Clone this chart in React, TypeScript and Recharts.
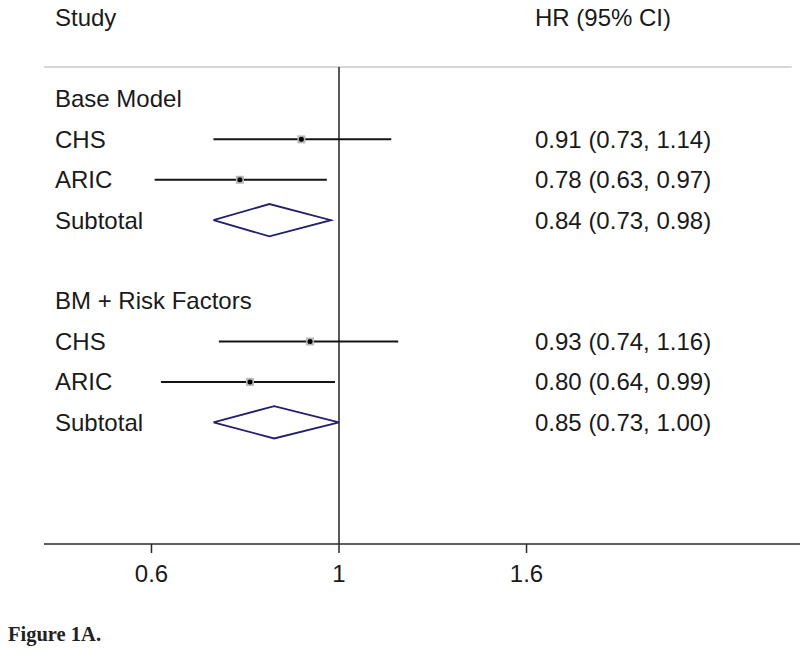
import React from 'react'
import { ScatterChart, Scatter, XAxis, YAxis, ReferenceLine, ErrorBar } from 'recharts'

// row layout, top to bottom
const ROW_LABELS = ['Base Model', 'CHS', 'ARIC', 'Subtotal', '', 'BM + Risk Factors', 'CHS', 'ARIC', 'Subtotal']

// individual studies
const STUDY_ROWS = [1, 2, 6, 7]
const STUDY_HR = [0.91, 0.78, 0.93, 0.8]
const STUDY_LO = [0.73, 0.63, 0.74, 0.64]
const STUDY_HI = [1.14, 0.97, 1.16, 0.99]

// pooled subtotals
const SUBTOTAL_ROWS = [3, 8]
const SUBTOTAL_HR = [0.84, 0.85]
const SUBTOTAL_LO = [0.73, 0.73]
const SUBTOTAL_HI = [0.98, 1.0]

// x axis (log scale, the 0.6 label sits at 1/1.6)
const X_TICKS = [0.625, 1, 1.6]
const X_TICK_LABELS = ['0.6', '1', '1.6']
const X_DOMAIN = [0.4774, 3.1754]
const Y_DOMAIN = [-0.79, 11.01]

const COLORS = {
  text: '#1a1a1a',
  ci: '#141414',
  diamond: '#24206e',
  marker: '#b8b8b8',
  sep: '#c8c8c8',
  axis: '#2a2a2a',
}

const FONT = '"Liberation Sans", Arial, Helvetica, sans-serif'
const DIAMOND_H = 0.4

const fmt = (v: number) => v.toFixed(2)

const hrText: string[] = ROW_LABELS.map(() => '')
STUDY_ROWS.forEach((r, i) => {
  hrText[r] = `${fmt(STUDY_HR[i])} (${fmt(STUDY_LO[i])}, ${fmt(STUDY_HI[i])})`
})
SUBTOTAL_ROWS.forEach((r, i) => {
  hrText[r] = `${fmt(SUBTOTAL_HR[i])} (${fmt(SUBTOTAL_LO[i])}, ${fmt(SUBTOTAL_HI[i])})`
})

const studyData = STUDY_ROWS.map((r, i) => ({
  x: STUDY_HR[i],
  y: r,
  err: [STUDY_HR[i] - STUDY_LO[i], STUDY_HI[i] - STUDY_HR[i]],
}))

const diamonds = SUBTOTAL_ROWS.map((r, i) => [
  { x: SUBTOTAL_LO[i], y: r },
  { x: SUBTOTAL_HR[i], y: r - DIAMOND_H },
  { x: SUBTOTAL_HI[i], y: r },
  { x: SUBTOTAL_HR[i], y: r + DIAMOND_H },
  { x: SUBTOTAL_LO[i], y: r },
])

const StudyMarker = (props: any) => {
  const { cx, cy } = props
  return (
    <g>
      <rect x={cx - 4} y={cy - 4} width={8} height={8} fill={COLORS.marker} />
      <circle cx={cx} cy={cy} r={2.5} fill="#000" />
    </g>
  )
}

const RowTick = (props: any) => {
  const { y, payload } = props
  const r = payload.value
  return (
    <g>
      <text x={55} y={y} dy="0.35em" fontSize={24} fontFamily={FONT} fill={COLORS.text} textAnchor="start">
        {ROW_LABELS[r]}
      </text>
      <text x={535} y={y} dy="0.35em" fontSize={24} fontFamily={FONT} fill={COLORS.text} textAnchor="start">
        {hrText[r]}
      </text>
    </g>
  )
}

export default function App() {
  return (
    <div style={{ position: 'absolute', left: 0, top: 0, width: 800, height: 654, background: '#fff' }}>
      <div style={{ position: 'absolute', left: 55, top: 6, fontFamily: FONT, fontSize: 24, lineHeight: '24px', color: COLORS.text }}>
        Study
      </div>
      <div style={{ position: 'absolute', left: 535, top: 6, fontFamily: FONT, fontSize: 24, lineHeight: '24px', color: COLORS.text }}>
        HR (95% CI)
      </div>
      <ScatterChart width={800} height={654} margin={{ top: 67, right: 0, bottom: 60, left: 44 }}>
        <XAxis
          type="number"
          dataKey="x"
          scale="log"
          domain={X_DOMAIN}
          allowDataOverflow
          ticks={X_TICKS}
          tickFormatter={(v: number) => X_TICK_LABELS[X_TICKS.indexOf(v)]}
          height={50}
          tickSize={9}
          tickMargin={12}
          stroke={COLORS.axis}
          strokeWidth={1.5}
          tick={{ fontSize: 24, fontFamily: FONT, fill: COLORS.text }}
        />
        <YAxis
          type="number"
          dataKey="y"
          domain={Y_DOMAIN}
          reversed
          allowDataOverflow
          mirror
          ticks={ROW_LABELS.map((_, i) => i)}
          axisLine={false}
          tickLine={false}
          tick={<RowTick />}
        />
        <ReferenceLine
          segment={[{ x: X_DOMAIN[0], y: Y_DOMAIN[0] }, { x: 3.11, y: Y_DOMAIN[0] }]}
          stroke={COLORS.sep}
          strokeWidth={1.3}
          ifOverflow="visible"
        />
        <ReferenceLine x={1} stroke="#000" strokeWidth={1.3} />
        {diamonds.map((d, i) => (
          <Scatter
            key={i}
            data={d}
            line={{ stroke: COLORS.diamond, strokeWidth: 1.8 }}
            shape={() => <g />}
            isAnimationActive={false}
          />
        ))}
        <Scatter data={studyData} shape={<StudyMarker />} isAnimationActive={false}>
          <ErrorBar dataKey="err" direction="x" width={0} stroke={COLORS.ci} strokeWidth={2} isAnimationActive={false} />
        </Scatter>
      </ScatterChart>
      <div
        style={{
          position: 'absolute',
          left: 8,
          top: 624,
          fontFamily: '"Liberation Serif", "Times New Roman", serif',
          fontWeight: 'bold',
          fontSize: 20.5,
          lineHeight: '20.5px',
          color: '#222',
        }}
      >
        Figure 1A.
      </div>
    </div>
  )
}
